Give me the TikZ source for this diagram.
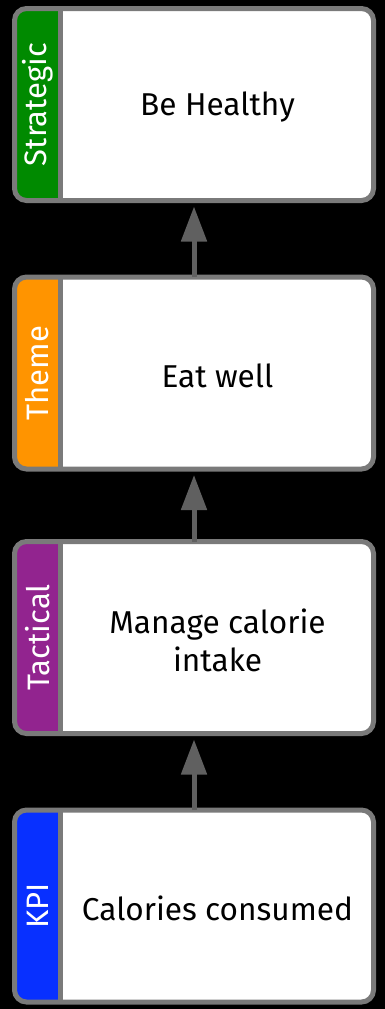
\documentclass[tikz,border=0pt]{standalone}
\usepackage{fontspec}
\setmainfont{Fira Sans}
\usetikzlibrary{arrows.meta}
\definecolor{framegray}{RGB}{122,122,122}
\definecolor{arrowgray}{RGB}{96,96,96}
\definecolor{cgreen}{RGB}{0,138,0}
\definecolor{corange}{RGB}{255,148,0}
\definecolor{cpurple}{RGB}{146,36,143}
\definecolor{cblue}{RGB}{8,48,255}
\newcommand\kpicard[6]{% name, center y, colour, side label, main text
  \begin{scope}
    \clip[rounded corners=12pt] (14.5,#2-96) rectangle (373.5,#2+96);
    \fill[white] (14.5,#2-96) rectangle (373.5,#2+96);
    \fill[#3] (14.5,#2-96) rectangle (60.5,#2+96);
  \end{scope}
  \node[frame] (#1) at (194,#2) {};
  \draw[divider] ([xshift=46pt]#1.north west) -- ([xshift=46pt]#1.south west);
  \node[sidelabel] (#1l) at (37.5,#2) {#4};
  \node[maintext] (#1t) at (217.5,#2+2.5) {#5};
}
\begin{document}
\begin{tikzpicture}[x=1pt,y=-1pt,
  frame/.style={draw=framegray,line width=5pt,rounded corners=12pt,minimum width=359pt,minimum height=192pt,inner sep=0pt,outer sep=0pt},
  divider/.style={draw=framegray,line width=5pt},
  sidelabel/.style={text=white,rotate=90,font=\fontsize{31}{34}\selectfont,inner sep=0pt},
  maintext/.style={text=black,font=\fontsize{31.6}{38}\selectfont,align=center,inner sep=0pt},
  arr/.style={draw=arrowgray,line width=5pt,-{Triangle[length=35pt,width=25pt]},shorten >=6pt}]
\fill[black] (0,0) rectangle (385,1009);
\useasboundingbox (0,0) rectangle (385,1009);
\kpicard{b1}{104.5}{cgreen}{Strategic}{Be Healthy}{}
\kpicard{b2}{373}{corange}{Theme}{Eat well}{}
\kpicard{b3}{637.5}{cpurple}{Tactical}{Manage calorie\\intake}{}
\kpicard{b4}{906}{cblue}{KPI}{Calories consumed}{}
\draw[arr] (b2.north) -- (b1.south);
\draw[arr] (b3.north) -- (b2.south);
\draw[arr] (b4.north) -- (b3.south);
\end{tikzpicture}
\end{document}
